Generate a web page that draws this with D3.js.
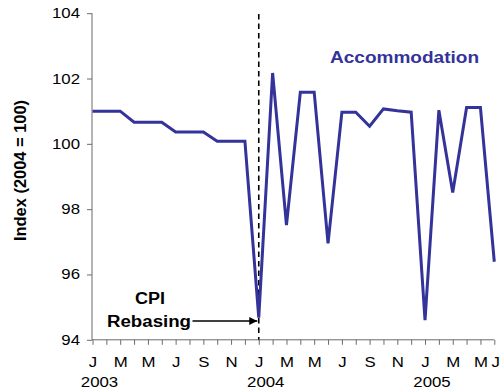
<!DOCTYPE html>
<html>
<head>
<meta charset="utf-8">
<script src="https://cdn.jsdelivr.net/npm/d3@7"></script>
<style>
  html, body { margin: 0; padding: 0; background: #fff; }
  svg { display: block; font-family: "Liberation Sans", Arial, sans-serif; }
</style>
</head>
<body>
<svg id="chart" width="500" height="391"></svg>
<script>
// Monthly accommodation price index, Jan 2003 – Jun 2005
const months = [
  "2003-01","2003-02","2003-03","2003-04","2003-05","2003-06",
  "2003-07","2003-08","2003-09","2003-10","2003-11","2003-12",
  "2004-01","2004-02","2004-03","2004-04","2004-05","2004-06",
  "2004-07","2004-08","2004-09","2004-10","2004-11","2004-12",
  "2005-01","2005-02","2005-03","2005-04","2005-05","2005-06"
];
const accommodation = [
  101.0, 101.0, 101.0, 100.66, 100.66, 100.66,
  100.36, 100.36, 100.36, 100.08, 100.08, 100.08,
  94.68, 102.17, 97.51, 101.58, 101.58, 96.95,
  100.97, 100.97, 100.54, 101.07, 101.01, 100.97,
  94.6, 101.03, 98.51, 101.11, 101.11, 96.39
];
const yTicks = [94, 96, 98, 100, 102, 104];
const monthLabelMonths = ["2003-01","2003-03","2003-05","2003-07","2003-09","2003-11",
  "2004-01","2004-03","2004-05","2004-07","2004-09","2004-11",
  "2005-01","2005-03","2005-05","2005-06"];
const monthLabels = ["J","M","M","J","S","N","J","M","M","J","S","N","J","M","M","J"];
const yearMonths = ["2003-01","2004-01","2005-01"];
const yearLabels = ["2003","2004","2005"];
const rebaseMonth = "2004-01";

(function draw() {
  const svg = d3.select("#chart");
  const plotLeft = 92, plotRight = 494.3, plotTop = 13.2, plotBottom = 339.8;
  const SX = 1.2; // horizontal stretch of the lettering

  const x = d3.scalePoint().domain(months).range([plotLeft + 0.5, plotRight]);
  const y = d3.scaleLinear().domain([94, 104]).range([plotBottom, plotTop]);

  const axisColor = "#6b6b6b";

  // Y axis
  const yAxis = svg.append("g")
    .attr("transform", `translate(${plotLeft},0)`)
    .call(d3.axisLeft(y).tickValues(yTicks).tickSize(5).tickPadding(7).tickFormat(d3.format("d")));
  yAxis.select(".domain").attr("stroke", axisColor).attr("d", `M0,${plotTop}V${plotBottom}`);
  yAxis.selectAll(".tick line").attr("stroke", axisColor);
  yAxis.selectAll(".tick text")
    .attr("fill", "#000")
    .attr("font-size", 14)
    .attr("font-family", "Liberation Sans, Arial, sans-serif")
    .attr("x", -12 / SX)
    .attr("transform", `scale(${SX},1)`);

  // X axis with a tick at every month
  const xAxis = svg.append("g")
    .attr("transform", `translate(0,${plotBottom})`)
    .call(d3.axisBottom(x).tickSize(5).tickFormat(""));
  xAxis.select(".domain").attr("stroke", axisColor).attr("d", `M${plotLeft},0H${plotRight}`);
  xAxis.selectAll(".tick line").attr("stroke", axisColor);

  // Month letters
  svg.append("g").selectAll("text")
    .data(monthLabelMonths)
    .join("text")
    .attr("transform", (d, i) => `translate(${x(d) + (i === monthLabels.length - 1 ? 1.5 : 0.5)},366.7) scale(${SX},1)`)
    .attr("text-anchor", "middle")
    .attr("font-size", 14)
    .text((d, i) => monthLabels[i]);

  // Year labels
  svg.append("g").selectAll("text")
    .data(yearMonths)
    .join("text")
    .attr("transform", d => `translate(${x(d) + 7},386.7) scale(${SX},1)`)
    .attr("text-anchor", "middle")
    .attr("font-size", 14)
    .text((d, i) => yearLabels[i]);

  // Y axis title
  svg.append("text")
    .attr("transform", "translate(25.5,170.5) rotate(-90)")
    .attr("text-anchor", "middle")
    .attr("font-size", 16)
    .attr("font-weight", "bold")
    .attr("textLength", 141)
    .attr("lengthAdjust", "spacingAndGlyphs")
    .text("Index (2004 = 100)");

  // Rebasing marker
  svg.append("line")
    .attr("x1", x(rebaseMonth)).attr("x2", x(rebaseMonth))
    .attr("y1", 14).attr("y2", plotBottom)
    .attr("stroke", "#000")
    .attr("stroke-width", 1.6)
    .attr("stroke-dasharray", "5.5,4");

  // Series line
  const line = d3.line()
    .x((d, i) => x(months[i]))
    .y(d => y(d));
  svg.append("path")
    .datum(accommodation)
    .attr("d", line)
    .attr("fill", "none")
    .attr("stroke", "#333399")
    .attr("stroke-width", 3)
    .attr("stroke-linejoin", "miter");

  // Annotation with arrow
  svg.append("defs").append("marker")
    .attr("id", "arrowhead")
    .attr("viewBox", "0 0 10 10")
    .attr("refX", 10).attr("refY", 5)
    .attr("markerWidth", 6).attr("markerHeight", 5)
    .attr("markerUnits", "strokeWidth")
    .attr("orient", "auto")
    .append("path")
    .attr("d", "M0,0L10,5L0,10Z")
    .attr("fill", "#000");

  svg.append("line")
    .attr("x1", 192.5).attr("x2", x(rebaseMonth) - 1.5)
    .attr("y1", 321).attr("y2", 321)
    .attr("stroke", "#000")
    .attr("stroke-width", 1.6)
    .attr("marker-end", "url(#arrowhead)");

  svg.append("text")
    .attr("x", 135).attr("y", 303.5)
    .attr("font-size", 16).attr("font-weight", "bold")
    .attr("textLength", 30).attr("lengthAdjust", "spacingAndGlyphs")
    .text("CPI");
  svg.append("text")
    .attr("x", 107).attr("y", 327)
    .attr("font-size", 16).attr("font-weight", "bold")
    .attr("textLength", 84).attr("lengthAdjust", "spacingAndGlyphs")
    .text("Rebasing");

  // Series label
  svg.append("text")
    .attr("x", 330).attr("y", 63.3)
    .attr("font-size", 16).attr("font-weight", "bold")
    .attr("fill", "#333399")
    .attr("textLength", 149).attr("lengthAdjust", "spacingAndGlyphs")
    .text("Accommodation");
})();
</script>
</body>
</html>
